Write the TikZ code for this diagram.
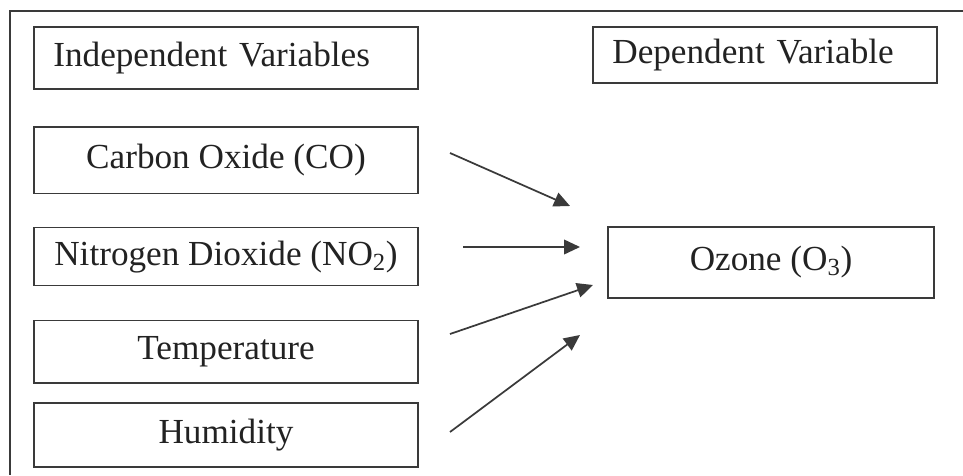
\documentclass[tikz,border=0pt]{standalone}
\usepackage{fontspec}
\setmainfont{Liberation Serif}
\usetikzlibrary{arrows.meta,positioning}

\definecolor{boxgray}{HTML}{3A3A3A}
\definecolor{textgray}{HTML}{222222}

\tikzset{
  varbox/.style={draw=boxgray, line width=1.2pt, inner sep=0pt, outer sep=0pt,
    minimum width=288pt, font=\fontsize{26.4}{30}\selectfont, text=textgray},
  headbox/.style={varbox, align=left, inner xsep=14.5pt, text width=#1},
  link/.style={-{Triangle[length=12pt,width=11pt]}, line width=1.3pt, draw=boxgray}
}

\begin{document}
\begin{tikzpicture}[x=0.75pt, y=-0.75pt]
  \useasboundingbox (0,0) rectangle (963,475);
  % frame
  \draw[boxgray, line width=1.2pt] (963,11) -- (10,11) -- (10,475);

  % left column
  \node[headbox=259pt, minimum height=46.5pt] (indep) at (226,58) {Independent Variables};
  \node[varbox, minimum height=50pt]   (co)    [below=28.5pt of indep] {Carbon Oxide (CO)};
  \node[varbox, minimum height=43.5pt] (no2)   [below=25.5pt of co]    {Nitrogen Dioxide (NO\textsubscript{2})};
  \node[varbox, minimum height=47pt]   (temp)  [below=26pt of no2]     {Temperature};
  \node[varbox, minimum height=48pt]   (humid) [below=15pt of temp]    {Humidity};

  % right column
  \node[headbox=229pt, minimum width=258pt, minimum height=42pt] (dep) at (765,55) {Dependent Variable};
  \node[varbox, minimum width=244.5pt, minimum height=53pt] (ozone) at (771,262.5) {Ozone (O\textsubscript{3})};

  % arrow ends
  \coordinate (coT)    at (450,153);
  \coordinate (coH)    at (570,206);
  \coordinate (no2T)   at (463,247);
  \coordinate (no2H)   at (580,247);
  \coordinate (tempT)  at (450,334);
  \coordinate (tempH)  at (593,285);
  \coordinate (humidT) at (450,432);
  \coordinate (humidH) at (580,335);

  \draw[link] (coT) -- (coH);
  \draw[link] (no2T) -- (no2H);
  \draw[link] (tempT) -- (tempH);
  \draw[link] (humidT) -- (humidH);
\end{tikzpicture}
\end{document}
